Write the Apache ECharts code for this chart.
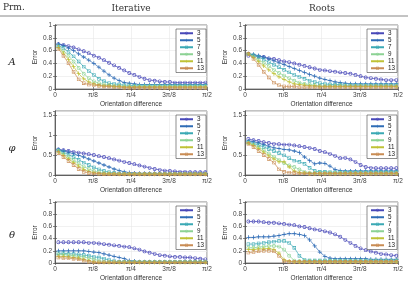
<!DOCTYPE html>
<html><head><meta charset="utf-8">
<script src="https://cdn.jsdelivr.net/npm/echarts@6/dist/echarts.min.js"></script>
<style>html,body{margin:0;padding:0;background:#fff}#c{width:408px;height:283px}</style>
</head><body><div id="c"></div>
<script>
// Orientation difference sample positions (degrees; π/2 = 90)
const degrees = [2,5,8,11,14,17,20,23,26,29,32,35,38,41,44,47,50,53,56,59,62,65,68,71,74,77,80,83,86,89];
const orders = ['3','5','7','9','11','13'];
const xTickLabels = {0:'0', 22.5:'π/8', 45:'π/4', 67.5:'3π/8', 90:'π/2'};
const colHeaders = ['Prm.', 'Iterative', 'Roots'];
const rowLabels = ['A', 'φ', 'θ'];

// A – Iterative
const A_iter_3  = [0.70,0.69,0.67,0.65,0.62,0.59,0.56,0.52,0.49,0.45,0.41,0.37,0.33,0.29,0.25,0.22,0.19,0.16,0.14,0.13,0.12,0.11,0.11,0.10,0.10,0.10,0.10,0.10,0.10,0.10];
const A_iter_5  = [0.70,0.68,0.64,0.60,0.55,0.50,0.45,0.40,0.34,0.28,0.22,0.17,0.13,0.10,0.09,0.08,0.07,0.07,0.07,0.07,0.07,0.07,0.07,0.07,0.07,0.07,0.07,0.07,0.07,0.07];
const A_iter_7  = [0.68,0.64,0.58,0.51,0.43,0.35,0.28,0.22,0.16,0.12,0.09,0.08,0.07,0.06,0.06,0.05,0.05,0.05,0.05,0.05,0.05,0.05,0.05,0.05,0.05,0.05,0.05,0.05,0.05,0.05];
const A_iter_9  = [0.66,0.60,0.52,0.43,0.33,0.24,0.17,0.12,0.09,0.07,0.06,0.05,0.05,0.04,0.04,0.04,0.04,0.04,0.04,0.04,0.04,0.04,0.04,0.04,0.04,0.04,0.04,0.04,0.04,0.04];
const A_iter_11 = [0.65,0.56,0.46,0.35,0.24,0.16,0.11,0.08,0.06,0.05,0.05,0.04,0.04,0.03,0.03,0.03,0.03,0.03,0.03,0.03,0.03,0.03,0.03,0.03,0.03,0.03,0.03,0.03,0.03,0.03];
const A_iter_13 = [0.63,0.52,0.40,0.27,0.15,0.09,0.07,0.06,0.05,0.04,0.04,0.03,0.03,0.02,0.02,0.02,0.02,0.02,0.02,0.02,0.02,0.02,0.02,0.02,0.02,0.02,0.02,0.02,0.02,0.02];
// A – Roots
const A_root_3  = [0.52,0.52,0.51,0.50,0.48,0.47,0.45,0.43,0.42,0.40,0.38,0.36,0.34,0.32,0.30,0.29,0.28,0.27,0.26,0.25,0.24,0.22,0.20,0.18,0.17,0.16,0.15,0.14,0.14,0.14];
const A_root_5  = [0.55,0.54,0.52,0.50,0.47,0.44,0.41,0.38,0.35,0.32,0.29,0.26,0.23,0.20,0.17,0.15,0.13,0.11,0.10,0.09,0.08,0.08,0.08,0.08,0.08,0.08,0.08,0.08,0.08,0.08];
const A_root_7  = [0.55,0.53,0.50,0.46,0.42,0.38,0.34,0.30,0.26,0.22,0.19,0.16,0.13,0.11,0.09,0.08,0.07,0.07,0.07,0.06,0.06,0.06,0.06,0.06,0.06,0.06,0.06,0.06,0.06,0.06];
const A_root_9  = [0.55,0.51,0.46,0.41,0.36,0.30,0.25,0.21,0.17,0.13,0.10,0.08,0.07,0.06,0.05,0.05,0.05,0.05,0.05,0.05,0.05,0.05,0.05,0.05,0.05,0.05,0.05,0.05,0.05,0.05];
const A_root_11 = [0.55,0.49,0.43,0.36,0.30,0.24,0.19,0.15,0.11,0.08,0.07,0.06,0.05,0.05,0.04,0.04,0.04,0.04,0.04,0.04,0.04,0.04,0.04,0.04,0.04,0.04,0.04,0.04,0.04,0.04];
const A_root_13 = [0.55,0.47,0.38,0.27,0.18,0.10,0.06,0.04,0.04,0.04,0.03,0.03,0.03,0.03,0.03,0.03,0.03,0.03,0.03,0.03,0.03,0.03,0.03,0.03,0.03,0.03,0.03,0.03,0.03,0.03];
// φ – Iterative
const P_iter_3  = [0.64,0.62,0.60,0.58,0.56,0.54,0.52,0.50,0.47,0.45,0.42,0.39,0.36,0.33,0.30,0.27,0.24,0.21,0.18,0.15,0.13,0.11,0.10,0.09,0.08,0.08,0.07,0.07,0.07,0.07];
const P_iter_5  = [0.63,0.60,0.57,0.53,0.49,0.45,0.40,0.35,0.30,0.25,0.20,0.15,0.11,0.08,0.06,0.05,0.04,0.04,0.04,0.04,0.04,0.04,0.04,0.04,0.04,0.04,0.04,0.04,0.04,0.04];
const P_iter_7  = [0.62,0.57,0.51,0.45,0.38,0.31,0.25,0.19,0.14,0.10,0.07,0.05,0.04,0.04,0.03,0.03,0.03,0.03,0.03,0.03,0.03,0.03,0.03,0.03,0.03,0.03,0.03,0.03,0.03,0.03];
const P_iter_9  = [0.60,0.53,0.45,0.37,0.29,0.21,0.15,0.10,0.07,0.05,0.04,0.03,0.03,0.03,0.03,0.03,0.03,0.03,0.03,0.03,0.03,0.03,0.03,0.03,0.03,0.03,0.03,0.03,0.03,0.03];
const P_iter_11 = [0.58,0.49,0.40,0.31,0.22,0.14,0.09,0.06,0.04,0.03,0.03,0.03,0.02,0.02,0.02,0.02,0.02,0.02,0.02,0.02,0.02,0.02,0.02,0.02,0.02,0.02,0.02,0.02,0.02,0.02];
const P_iter_13 = [0.55,0.45,0.35,0.25,0.15,0.08,0.05,0.04,0.03,0.02,0.02,0.02,0.02,0.02,0.02,0.02,0.02,0.02,0.02,0.02,0.02,0.02,0.02,0.02,0.02,0.02,0.02,0.02,0.02,0.02];
// φ – Roots
const P_root_3  = [0.90,0.87,0.85,0.82,0.80,0.78,0.77,0.76,0.76,0.74,0.72,0.70,0.68,0.65,0.60,0.57,0.53,0.48,0.42,0.43,0.39,0.33,0.25,0.20,0.18,0.17,0.17,0.17,0.17,0.17];
const P_root_5  = [0.85,0.83,0.80,0.76,0.72,0.68,0.66,0.64,0.63,0.60,0.56,0.45,0.36,0.28,0.30,0.29,0.22,0.14,0.11,0.10,0.10,0.10,0.10,0.10,0.10,0.10,0.10,0.10,0.10,0.10];
const P_root_7  = [0.82,0.79,0.75,0.70,0.65,0.60,0.55,0.49,0.42,0.36,0.33,0.28,0.18,0.10,0.08,0.08,0.07,0.07,0.07,0.07,0.07,0.07,0.07,0.07,0.07,0.07,0.07,0.07,0.07,0.07];
const P_root_9  = [0.80,0.76,0.70,0.62,0.54,0.46,0.38,0.30,0.24,0.20,0.14,0.08,0.06,0.05,0.05,0.05,0.05,0.05,0.05,0.05,0.05,0.05,0.05,0.05,0.05,0.05,0.05,0.05,0.05,0.05];
const P_root_11 = [0.80,0.74,0.66,0.57,0.48,0.40,0.33,0.33,0.20,0.10,0.06,0.05,0.04,0.04,0.04,0.04,0.04,0.04,0.04,0.04,0.04,0.04,0.04,0.04,0.04,0.04,0.04,0.04,0.04,0.04];
const P_root_13 = [0.78,0.70,0.60,0.50,0.40,0.31,0.14,0.08,0.06,0.05,0.04,0.04,0.03,0.03,0.03,0.03,0.03,0.03,0.03,0.03,0.03,0.03,0.03,0.03,0.03,0.03,0.03,0.03,0.03,0.03];
// θ – Iterative
const T_iter_3  = [0.34,0.34,0.34,0.34,0.34,0.34,0.33,0.33,0.32,0.31,0.30,0.29,0.28,0.27,0.26,0.24,0.22,0.19,0.17,0.15,0.13,0.12,0.11,0.10,0.10,0.09,0.09,0.08,0.07,0.06];
const T_iter_5  = [0.20,0.20,0.20,0.20,0.20,0.20,0.19,0.18,0.17,0.15,0.13,0.11,0.09,0.07,0.04,0.03,0.02,0.02,0.02,0.02,0.02,0.02,0.02,0.02,0.02,0.02,0.02,0.02,0.02,0.02];
const T_iter_7  = [0.16,0.16,0.15,0.15,0.14,0.13,0.12,0.10,0.09,0.07,0.05,0.03,0.02,0.02,0.02,0.02,0.02,0.02,0.02,0.02,0.02,0.02,0.02,0.02,0.02,0.02,0.02,0.02,0.02,0.02];
const T_iter_9  = [0.14,0.14,0.13,0.12,0.11,0.10,0.08,0.06,0.04,0.02,0.02,0.02,0.02,0.02,0.02,0.02,0.02,0.02,0.02,0.02,0.02,0.02,0.02,0.02,0.02,0.02,0.02,0.02,0.02,0.02];
const T_iter_11 = [0.11,0.11,0.10,0.09,0.08,0.06,0.04,0.02,0.01,0.01,0.01,0.01,0.01,0.01,0.01,0.01,0.01,0.01,0.01,0.01,0.01,0.01,0.01,0.01,0.01,0.01,0.01,0.01,0.01,0.01];
const T_iter_13 = [0.09,0.08,0.08,0.07,0.06,0.04,0.02,0.01,0.01,0.01,0.01,0.01,0.01,0.01,0.01,0.01,0.01,0.01,0.01,0.01,0.01,0.01,0.01,0.01,0.01,0.01,0.01,0.01,0.01,0.01];
// θ – Roots
const T_root_3  = [0.68,0.68,0.68,0.67,0.66,0.66,0.65,0.64,0.63,0.62,0.60,0.59,0.57,0.55,0.54,0.52,0.50,0.47,0.43,0.38,0.33,0.28,0.24,0.21,0.19,0.17,0.15,0.14,0.13,0.12];
const T_root_5  = [0.42,0.42,0.43,0.43,0.43,0.44,0.45,0.47,0.48,0.48,0.47,0.45,0.38,0.28,0.18,0.11,0.08,0.07,0.07,0.07,0.07,0.07,0.07,0.07,0.06,0.06,0.06,0.06,0.06,0.06];
const T_root_7  = [0.31,0.31,0.32,0.33,0.34,0.35,0.36,0.36,0.33,0.25,0.12,0.05,0.04,0.04,0.04,0.04,0.04,0.04,0.04,0.04,0.04,0.04,0.04,0.04,0.04,0.04,0.04,0.04,0.04,0.04];
const T_root_9  = [0.25,0.25,0.26,0.27,0.28,0.28,0.27,0.22,0.12,0.04,0.03,0.03,0.03,0.03,0.03,0.03,0.03,0.03,0.03,0.03,0.03,0.03,0.03,0.03,0.03,0.03,0.03,0.03,0.03,0.03];
const T_root_11 = [0.22,0.22,0.23,0.23,0.24,0.22,0.16,0.05,0.03,0.02,0.02,0.02,0.02,0.02,0.02,0.02,0.02,0.02,0.02,0.02,0.02,0.02,0.02,0.02,0.02,0.02,0.02,0.02,0.02,0.02];
const T_root_13 = [0.17,0.18,0.19,0.20,0.20,0.19,0.12,0.03,0.02,0.02,0.02,0.02,0.02,0.02,0.02,0.02,0.02,0.02,0.02,0.02,0.02,0.02,0.02,0.02,0.02,0.02,0.02,0.02,0.02,0.02];

const yMaxByRow = [1, 1.6, 1];
const yIntervalByRow = [0.2, 0.5, 0.2];

const panels = [
  [A_iter_3,A_iter_5,A_iter_7,A_iter_9,A_iter_11,A_iter_13],
  [A_root_3,A_root_5,A_root_7,A_root_9,A_root_11,A_root_13],
  [P_iter_3,P_iter_5,P_iter_7,P_iter_9,P_iter_11,P_iter_13],
  [P_root_3,P_root_5,P_root_7,P_root_9,P_root_11,P_root_13],
  [T_iter_3,T_iter_5,T_iter_7,T_iter_9,T_iter_11,T_iter_13],
  [T_root_3,T_root_5,T_root_7,T_root_9,T_root_11,T_root_13]
];

const colors = ['#4848b8','#2f6cb6','#3aa9b4','#8cd294','#bfc236','#c98c54'];
// hollow marker outlines as filled ring shapes
const ring = 'path://M0,5A5,5,0,1,1,10,5A5,5,0,1,1,0,5Z M1.7,5A3.3,3.3,0,1,0,8.3,5A3.3,3.3,0,1,0,1.7,5Z';
const box = 'path://M0,0H10V10H0Z M1.7,1.7V8.3H8.3V1.7Z';
const plus = 'path://M4.1,0H5.9V4.1H10V5.9H5.9V10H4.1V5.9H0V4.1H4.1Z';
const symbols = [ring, plus, box, ring, plus, box];
const symbolSizes = [3.8, 4.2, 3.4, 3.8, 4.2, 3.4];

const colLeft = [55, 245], colWidth = [152, 153];
const rowTop = [25, 111, 202], rowHeight = 64;
const axisColor = '#555', txt = '#444', font = 'Liberation Sans';

const grids = [], xAxes = [], yAxes = [], series = [], legends = [];
for (let r = 0; r < 3; r++) {
  for (let c = 0; c < 2; c++) {
    const g = r * 2 + c;
    grids.push({left: colLeft[c], top: rowTop[r], width: colWidth[c], height: rowHeight,
      show: true, borderColor: axisColor, borderWidth: 0.7, backgroundColor: '#fff'});
    xAxes.push({gridIndex: g, type: 'value', min: 0, max: 90, interval: 22.5,
      axisLine: {show: true, onZero: false, lineStyle: {color: axisColor, width: 0.7}},
      axisTick: {show: true, inside: true, length: 2, lineStyle: {color: axisColor, width: 0.7}},
      splitLine: {show: true, lineStyle: {color: '#e8e8e8', width: 0.6}},
      axisLabel: {fontSize: 6.5, color: txt, fontFamily: font, margin: 3,
        formatter: v => xTickLabels[v] !== undefined ? xTickLabels[v] : ''},
      name: 'Orientation difference', nameLocation: 'middle', nameGap: 12,
      nameTextStyle: {fontSize: 6.5, color: '#333', fontFamily: font}});
    xAxes.push({gridIndex: g, type: 'value', position: 'top', min: 0, max: 90, interval: 22.5,
      axisLine: {show: true, lineStyle: {color: axisColor, width: 0.7}},
      axisTick: {show: true, inside: true, length: 2, lineStyle: {color: axisColor, width: 0.7}},
      splitLine: {show: false}, axisLabel: {show: false}});
    yAxes.push({gridIndex: g, type: 'value', min: 0, max: yMaxByRow[r], interval: yIntervalByRow[r],
      axisLine: {show: true, onZero: false, lineStyle: {color: axisColor, width: 0.7}},
      axisTick: {show: true, inside: true, length: 2, lineStyle: {color: axisColor, width: 0.7}},
      splitLine: {show: true, lineStyle: {color: '#e8e8e8', width: 0.6}},
      axisLabel: {fontSize: 6.5, color: txt, fontFamily: font, margin: 3, showMaxLabel: r !== 1},
      name: 'Error', nameLocation: 'middle', nameGap: 16, nameRotate: 90,
      nameTextStyle: {fontSize: 6.5, color: '#333', fontFamily: font}});
    yAxes.push({gridIndex: g, type: 'value', position: 'right', min: 0, max: yMaxByRow[r], interval: yIntervalByRow[r],
      axisLine: {show: true, lineStyle: {color: axisColor, width: 0.7}},
      axisTick: {show: true, inside: true, length: 2, lineStyle: {color: axisColor, width: 0.7}},
      splitLine: {show: false}, axisLabel: {show: false}});
    panels[g].forEach((vals, i) => {
      series.push({type: 'line', name: orders[i], xAxisIndex: g * 2, yAxisIndex: g * 2,
        data: degrees.map((d, k) => [d, vals[k]]),
        symbol: symbols[i], symbolSize: symbolSizes[i], showSymbol: true,
        lineStyle: {color: colors[i], width: 0.7},
        itemStyle: {color: colors[i], borderWidth: 0},
        animation: false, silent: true, z: 2 + i});
    });
    legends.push({data: orders, orient: 'vertical', left: colLeft[c] + colWidth[c] - 31, top: rowTop[r] + 4,
      backgroundColor: '#fff', borderColor: '#444', borderWidth: 0.6, padding: [1, 2, 1, 3],
      itemWidth: 13, itemHeight: 3.6, itemGap: 0.5,
      textStyle: {fontSize: 6.3, lineHeight: 6.5, color: '#222', fontFamily: font, padding: [0, 0, 0, -1]}});
  }
}

const graphics = [
  {type: 'line', shape: {x1: 0, y1: 16, x2: 408, y2: 16}, style: {stroke: '#888', lineWidth: 1}},
  {type: 'text', left: 3, top: 3, style: {text: colHeaders[0], font: '9px "DejaVu Serif"', fill: '#333'}},
  {type: 'text', x: 131, y: 9, style: {text: colHeaders[1], font: '9px "DejaVu Serif"', fill: '#333', textAlign: 'center', textVerticalAlign: 'middle'}},
  {type: 'text', x: 322, y: 9, style: {text: colHeaders[2], font: '9px "DejaVu Serif"', fill: '#333', textAlign: 'center', textVerticalAlign: 'middle'}}
];
const rowLabelY = [62, 148, 235];
rowLabels.forEach((t, i) => graphics.push({type: 'text', x: 12, y: rowLabelY[i],
  style: {text: t, font: 'italic 10px "DejaVu Serif"', fill: '#222', textAlign: 'center', textVerticalAlign: 'middle'}}));

const chart = echarts.init(document.getElementById('c'), null, {renderer: 'canvas'});
chart.setOption({animation: false, grid: grids, xAxis: xAxes, yAxis: yAxes, series, legend: legends, graphic: graphics});
</script></body></html>
